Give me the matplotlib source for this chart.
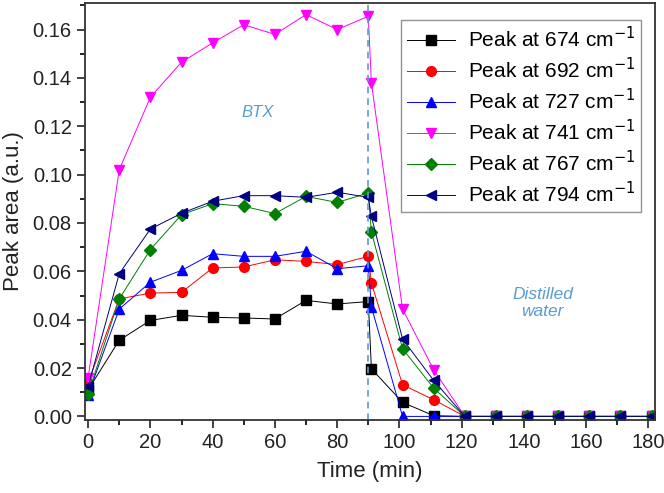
import numpy as np
import matplotlib
matplotlib.use("Agg")
import matplotlib.pyplot as plt
from matplotlib.ticker import MultipleLocator

plt.rcParams["font.family"] = ["Liberation Sans", "DejaVu Sans"]

# Time points (min)
time = [0, 10, 20, 30, 40, 50, 60, 70, 80, 90, 91, 101, 111, 121, 131, 141, 151, 161, 171, 181]

peak_674 = [0.011, 0.0315, 0.0397, 0.0418, 0.041, 0.0407, 0.0403, 0.048, 0.0465, 0.0475,
            0.0197, 0.0058, 0.0003, 0, 0, 0, 0, 0, 0, 0]
peak_692 = [0.014, 0.0486, 0.051, 0.0513, 0.0614, 0.0618, 0.0648, 0.0641, 0.0628, 0.0662,
            0.0552, 0.0131, 0.0069, 0, 0, 0, 0, 0, 0, 0]
peak_727 = [0.009, 0.0444, 0.0555, 0.0604, 0.0673, 0.0662, 0.0662, 0.0683, 0.0611, 0.0623,
            0.0453, 0.0, 0.0, 0, 0, 0, 0, 0, 0, 0]
peak_741 = [0.016, 0.102, 0.132, 0.1465, 0.1545, 0.162, 0.158, 0.1662, 0.160, 0.1655,
            0.138, 0.0444, 0.0193, 0, 0, 0, 0, 0, 0, 0]
peak_767 = [0.0094, 0.0486, 0.069, 0.0834, 0.088, 0.0869, 0.0839, 0.091, 0.0885, 0.0924,
            0.0763, 0.028, 0.0117, 0, 0, 0, 0, 0, 0, 0]
peak_794 = [0.0124, 0.059, 0.0775, 0.084, 0.089, 0.0913, 0.0913, 0.0906, 0.0927, 0.0906,
            0.0827, 0.032, 0.0149, 0, 0, 0, 0, 0, 0, 0]

series = [
    (peak_674, "674", "black", "s"),
    (peak_692, "692", "red", "o"),
    (peak_727, "727", "blue", "^"),
    (peak_741, "741", "magenta", "v"),
    (peak_767, "767", "green", "D"),
    (peak_794, "794", "navy", "<"),
]

fig = plt.figure(figsize=(6.64, 4.93), dpi=100)
ax = fig.add_axes([0.128, 0.148, 0.858, 0.846])

for vals, wn, col, mk in series:
    ax.plot(time, vals, color=col, marker=mk, markersize=7 if mk != "D" else 6,
            linewidth=0.7, label=f"Peak at {wn} cm$^{{-1}}$")

ax.axvline(90, color="#5b9bd5", linestyle=(0, (4, 3)), linewidth=1.2)

ax.text(54.5, 0.1255, "BTX", color="#5b9bd5", fontsize=12, style="italic",
        ha="center", va="center")
ax.text(146, 0.047, "Distilled\nwater", color="#5b9bd5", fontsize=12.5, style="italic",
        ha="center", va="center", linespacing=1.15)

ax.set_xlim(-1, 182)
ax.set_ylim(-0.0015, 0.171)
ax.xaxis.set_major_locator(MultipleLocator(20))
ax.xaxis.set_minor_locator(MultipleLocator(10))
ax.yaxis.set_major_locator(MultipleLocator(0.02))
ax.yaxis.set_minor_locator(MultipleLocator(0.01))
ax.yaxis.set_major_formatter(plt.FormatStrFormatter("%.2f"))
ax.tick_params(which="major", direction="out", length=6, width=1.2, labelsize=14.5, colors="#222222")
ax.tick_params(which="minor", direction="out", length=3.5, width=1.2)
for s in ax.spines.values():
    s.set_linewidth(1.3)
    s.set_color("#333333")

ax.set_xlabel("Time (min)", fontsize=16, color="#222222", labelpad=6)
ax.set_ylabel("Peak area (a.u.)", fontsize=16, color="#222222", labelpad=6)

leg = ax.legend(loc="upper right", fontsize=15, fancybox=False, edgecolor="#777777",
                handlelength=2.3, labelspacing=0.28, borderpad=0.3, handletextpad=0.6,
                bbox_to_anchor=(0.995, 0.985))
leg.get_frame().set_linewidth(1.0)

fig.savefig("out.png", dpi=100)
